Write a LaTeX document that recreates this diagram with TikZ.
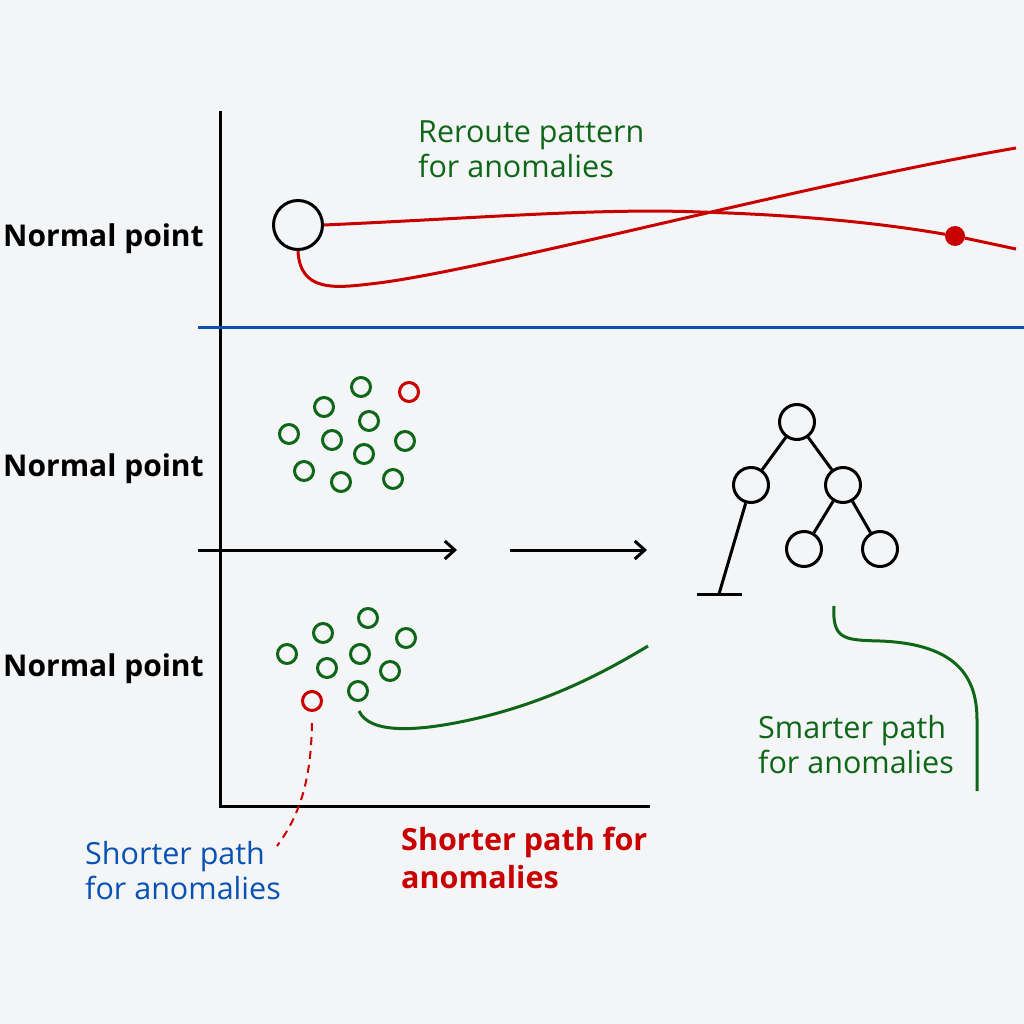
\documentclass[tikz,border=0pt]{standalone}
\usepackage{fontspec}
\setmainfont{Open Sans}
\usepackage{tikz}
\usetikzlibrary{positioning}
\usetikzlibrary{arrows.meta}

\definecolor{bgcol}{RGB}{244,245,247}
\definecolor{pathred}{RGB}{200,0,0}
\definecolor{pathgreen}{RGB}{14,102,24}
\definecolor{pathblue}{RGB}{8,82,180}

\begin{document}
\begin{tikzpicture}[x=1pt, y=-1pt,
				inlier/.style={circle, draw=pathgreen, line width=3pt,
						minimum size=19pt, inner sep=0pt},
				outlier/.style={circle, draw=pathred, line width=3pt,
						minimum size=19pt, inner sep=0pt},
				treenode/.style={circle, draw, line width=3pt,
						minimum size=35pt, inner sep=0pt},
				rowlabel/.style={anchor=base west, inner sep=0pt,
						font=\fontsize{30}{36}\selectfont\bfseries},
				note/.style={anchor=base west, inner sep=0pt, align=left,
						font=\fontsize{30.5}{35}\selectfont},
				axis/.style={line width=3pt, line cap=rect},
				flow/.style={line width=3pt, -{Straight Barb[length=10pt, width=18pt, line width=3pt]}}
			]

			% canvas
			\fill[bgcol] (0,0) rectangle (1024,1024);
			\useasboundingbox (0,0) rectangle (1024,1024);

			% Axes and separators
			\coordinate (ytop) at (220,113);
			\coordinate (origin) at (220,806);
			\coordinate (xend) at (648,806);
			\draw[axis] (ytop) -- (origin) -- (xend);
			\coordinate (sepl) at (198,327);
			\coordinate (sepr) at (1024,327);
			\draw[pathblue, line width=3pt] (sepl) -- (sepr);

			% Row labels
			\node[rowlabel] (row1) at (3,246) {Normal point};
			\node[rowlabel] (row2) at (3,476) {Normal point};
			\node[rowlabel] (row3) at (3,676) {Normal point};

			% Top panel: rerouted paths
			\node[circle, draw, line width=3pt, minimum size=49pt, inner sep=0pt] (start) at (298,225) {};
			\node[circle, fill=pathred, minimum size=20pt, inner sep=0pt] (hit) at (955,236) {};
			\coordinate (endA) at (1016,249);
			\coordinate (endB) at (1016,148);
			\draw[pathred, line width=3pt] (start.east) .. controls (480,218) and (600,208) .. (700,212)
				.. controls (800,215) and (880,223) .. (hit) -- (endA);
			\draw[pathred, line width=3pt] (start.south) .. controls (300,292) and (335,288) .. (370,284)
				.. controls (480,272) and (800,185) .. (endB);
			\node[note, text=pathgreen] (reroute) at (418,178) {Reroute pattern\\for anomalies};

			% Middle panel: first cluster
			\node[inlier] (a1) at (361,387) {};
			\node[outlier] (a0) at (409,392) {};
			\node[inlier] (a2) at (324,407) {};
			\node[inlier] (a3) at (369,421) {};
			\node[inlier] (a4) at (289,434) {};
			\node[inlier] (a5) at (332,440) {};
			\node[inlier] (a6) at (405,441) {};
			\node[inlier] (a7) at (364,454) {};
			\node[inlier] (a8) at (304,471) {};
			\node[inlier] (a9) at (341,482) {};
			\node[inlier] (a10) at (393,479) {};

			% Arrows
			\coordinate (f1a) at (198,550);
			\coordinate (f1b) at (457,550);
			\coordinate (f2a) at (510,550);
			\coordinate (f2b) at (647,550);
			\draw[flow] (f1a) -- (f1b);
			\draw[flow] (f2a) -- (f2b);

			% Tree
			\node[treenode] (root) at (797,422) {};
			\node[treenode] (tl) at (751,485) {};
			\node[treenode] (tr) at (843,485) {};
			\node[treenode] (trl) at (804,549) {};
			\node[treenode] (trr) at (880,549) {};
			\draw[line width=3pt] (root) -- (tl);
			\draw[line width=3pt] (root) -- (tr);
			\draw[line width=3pt] (tr) -- (trl);
			\draw[line width=3pt] (tr) -- (trr);
			\coordinate (stem) at (719,594);
			\coordinate (barl) at (697,594);
			\coordinate (barr) at (742,594);
			\draw[line width=3pt] (tl) -- (stem);
			\draw[line width=3pt] (barl) -- (barr);

			% Bottom panel: second cluster
			\node[inlier] (b1) at (368,618) {};
			\node[inlier] (b2) at (323,633) {};
			\node[inlier] (b3) at (406,638) {};
			\node[inlier] (b4) at (287,654) {};
			\node[inlier] (b5) at (360,654) {};
			\node[inlier] (b6) at (327,668) {};
			\node[inlier] (b7) at (390,671) {};
			\node[inlier] (b8) at (358,691) {};
			\node[outlier] (b0) at (312,701) {};

			% Green path from cluster
			\coordinate (gstart) at (359,711);
			\coordinate (gend) at (648,646);
			\draw[pathgreen, line width=3pt] (gstart) .. controls (370,735) and (420,730) .. (460,722)
				.. controls (540,706) and (600,675) .. (gend);

			% Dashed link from outlier
			\coordinate (dstart) at (312,723);
			\coordinate (dend) at (277,846);
			\draw[pathred, line width=2pt, dash pattern=on 8pt off 6pt] (dstart) .. controls (311,780) and (300,815) .. (dend);

			% Smarter path
			\coordinate (sstart) at (834,606);
			\coordinate (send) at (977,791);
			\draw[pathgreen, line width=3pt] (sstart) .. controls (832,640) and (845,640) .. (880,641)
				.. controls (960,644) and (977,680) .. (977,720) -- (send);

			% Notes
			\node[note, text=pathblue] (shortblue) at (85,899) {Shorter path\\for anomalies};
			\node[note, text=pathred, font=\fontsize{30.5}{38}\selectfont\bfseries] (shortred) at (401,888) {Shorter path for\\anomalies};
			\node[note, text=pathgreen] (smarter) at (758,773) {Smarter path\\for anomalies};

		\end{tikzpicture}
\end{document}
